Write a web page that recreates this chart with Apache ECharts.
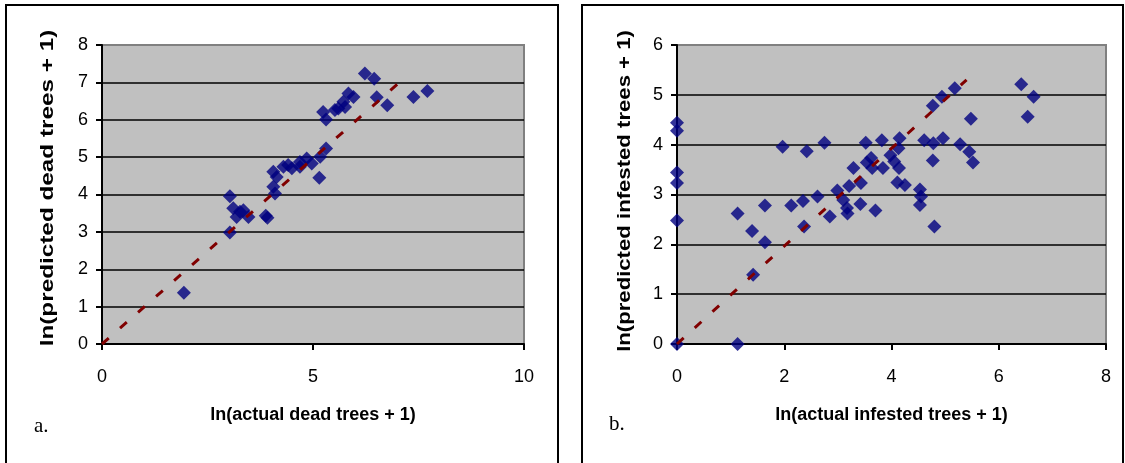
<!DOCTYPE html>
<html>
<head>
<meta charset="utf-8">
<script src="https://cdn.jsdelivr.net/npm/echarts@6.0.0/dist/echarts.min.js"></script>
<style>
    html, body { margin: 0; padding: 0; background: #fff; }
    #chart { width: 1125px; height: 463px; }
</style>
</head>
<body>
<div id="chart"></div>
<script>
// panel a: ln(actual dead trees + 1) vs ln(predicted dead trees + 1)
var deadActual = [1.94, 3.03, 3.03, 3.11, 3.27, 3.35, 3.19, 3.47, 3.88, 3.92,
    4.06, 4.10, 4.06, 4.14, 4.30, 4.41, 4.50, 4.69, 4.69, 4.85,
    4.97, 5.17, 5.15, 5.31, 5.24, 5.31, 5.52, 5.60, 5.72, 5.84,
    5.96, 5.76, 6.23, 6.45, 6.51, 6.76, 7.38, 7.71]
var deadPredicted = [1.37, 2.98, 3.95, 3.63, 3.54, 3.58, 3.40, 3.40, 3.43, 3.38,
    4.21, 4.03, 4.61, 4.47, 4.74, 4.79, 4.70, 4.87, 4.74, 4.96,
    4.83, 5.01, 4.45, 5.23, 6.21, 6.01, 6.26, 6.30, 6.48, 6.70,
    6.61, 6.34, 7.24, 7.10, 6.60, 6.39, 6.61, 6.77]
var deadTrendX = [0, 7.0]
var deadTrendY = [0, 6.95]

// panel b: ln(actual infested trees + 1) vs ln(predicted infested trees + 1)
var infActual = [0, 0, 0, 0, 0, 0,
    1.13, 1.13, 1.40, 1.42, 1.64, 1.64,
    1.97, 2.13, 2.35, 2.37, 2.42, 2.62, 2.75, 2.85,
    2.99, 3.10, 3.17, 3.18, 3.21, 3.29, 3.42, 3.43,
    3.52, 3.54, 3.62, 3.64, 3.70, 3.82, 3.84, 3.98, 4.05, 4.13, 4.14, 4.15, 4.11, 4.25,
    4.53, 4.55, 4.53, 4.61, 4.77, 4.78, 4.80, 4.77, 4.94, 4.96, 5.18, 5.28, 5.45, 5.48, 5.52,
    6.42, 6.54, 6.65]
var infPredicted = [4.44, 4.28, 3.44, 3.23, 2.48, 0,
    2.62, 0, 2.27, 1.39, 2.04, 2.78,
    3.96, 2.78, 2.87, 2.36, 3.87, 2.96, 4.04, 2.56,
    3.08, 2.89, 2.73, 2.62, 3.17, 3.53, 2.81, 3.23,
    4.04, 3.64, 3.73, 3.53, 2.68, 4.09, 3.53, 3.79, 3.66, 3.93, 3.53, 4.13, 3.24, 3.19,
    3.10, 2.96, 2.79, 4.09, 3.68, 4.03, 2.36, 4.78, 4.96, 4.13, 5.13, 4.01, 3.86, 4.52, 3.64,
    5.21, 4.56, 4.96]
var infTrendX = [0, 5.4]
var infTrendY = [0, 5.3]

var panelLetters = ['a.', 'b.']
var xTitles = ['ln(actual dead trees + 1)', 'ln(actual infested trees + 1)']
var yTitles = ['ln(predicted dead trees + 1)', 'ln(predicted infested trees + 1)']

function pairs(xs, ys) {
    return xs.map(function (x, i) { return [x, ys[i]] })
}

var font = 'Liberation Sans, Arial, sans-serif'

function makeX(idx, max, interval) {
    return {
        gridIndex: idx,
        type: 'value',
        min: 0,
        max: max,
        interval: interval,
        name: xTitles[idx],
        nameLocation: 'middle',
        nameGap: 62,
        nameTextStyle: { fontFamily: font, fontWeight: 'bold', fontSize: 18, color: '#000' },
        axisLine: { show: true, onZero: false, lineStyle: { color: '#000', width: 2 } },
        axisTick: { show: true, inside: false, length: 6, lineStyle: { color: '#000', width: 2 } },
        axisLabel: { fontFamily: font, fontSize: 18, color: '#000', margin: 24 },
        splitLine: { show: false }
    }
}

function makeY(idx, max) {
    return {
        gridIndex: idx,
        type: 'value',
        min: 0,
        max: max,
        interval: 1,
        axisLine: { show: true, onZero: false, lineStyle: { color: '#000', width: 2 } },
        axisTick: { show: true, inside: false, length: 6, lineStyle: { color: '#000', width: 2 } },
        axisLabel: { fontFamily: font, fontSize: 18, color: '#000', margin: 14 },
        splitLine: { show: true, showMaxLine: false, lineStyle: { color: '#000', width: 1.5 } }
    }
}

function scatter(idx, xs, ys) {
    return {
        type: 'scatter',
        xAxisIndex: idx,
        yAxisIndex: idx,
        symbol: 'diamond',
        symbolSize: 14,
        itemStyle: { color: '#000080' },
        data: pairs(xs, ys),
        z: 3
    }
}

function trend(idx, xs, ys) {
    return {
        type: 'line',
        xAxisIndex: idx,
        yAxisIndex: idx,
        showSymbol: false,
        silent: true,
        lineStyle: { color: '#800000', width: 3, type: [9, 15] },
        data: pairs(xs, ys),
        z: 4
    }
}

// y titles: the original's rotated text is stretched along its length
function yTitle(idx, x, y, stretch) {
    return {
        type: 'text',
        x: x,
        y: y,
        rotation: Math.PI / 2,
        scaleX: stretch,
        style: {
            text: yTitles[idx],
            font: 'bold 18px "Liberation Sans", Arial, sans-serif',
            fill: '#000',
            align: 'center',
            verticalAlign: 'middle'
        }
    }
}

var chart = echarts.init(document.getElementById('chart'), null, { renderer: 'canvas' })
chart.setOption({
    animation: false,
    backgroundColor: '#fff',
    grid: [
        { left: 102, top: 45, width: 422, height: 299, show: true, backgroundColor: '#c0c0c0', borderColor: '#808080', borderWidth: 2 },
        { left: 677, top: 45, width: 429, height: 299, show: true, backgroundColor: '#c0c0c0', borderColor: '#808080', borderWidth: 2 }
    ],
    xAxis: [makeX(0, 10, 5), makeX(1, 8, 2)],
    yAxis: [makeY(0, 8), makeY(1, 6)],
    series: [
        scatter(0, deadActual, deadPredicted),
        trend(0, deadTrendX, deadTrendY),
        scatter(1, infActual, infPredicted),
        trend(1, infTrendX, infTrendY)
    ],
    graphic: [
        { type: 'rect', shape: { x: 6, y: 5, width: 552, height: 480 }, style: { fill: 'none', stroke: '#000', lineWidth: 2 }, z: -10 },
        { type: 'rect', shape: { x: 582, y: 5, width: 541, height: 480 }, style: { fill: 'none', stroke: '#000', lineWidth: 2 }, z: -10 },
        yTitle(0, 48, 188, 1.35),
        yTitle(1, 625, 191, 1.23),
        { type: 'text', left: 34, top: 416, style: { text: panelLetters[0], font: '21px "Liberation Serif", "Times New Roman", serif', fill: '#000' } },
        { type: 'text', left: 609, top: 414, style: { text: panelLetters[1], font: '21px "Liberation Serif", "Times New Roman", serif', fill: '#000' } }
    ]
})
</script>
</body>
</html>
